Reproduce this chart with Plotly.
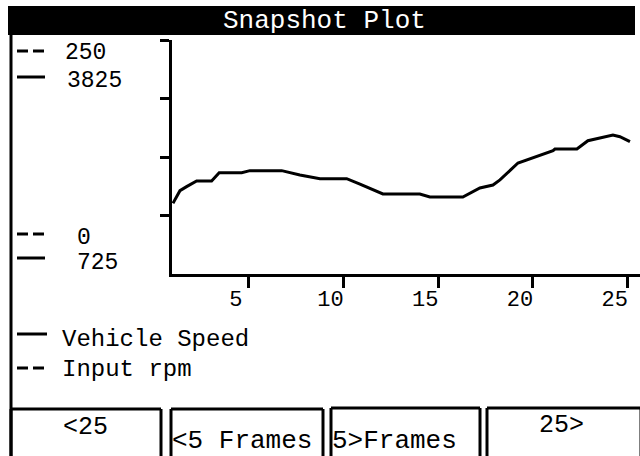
import plotly.graph_objects as go

# ---- data ----
frames = [1.0, 1.37, 1.72, 2.25, 3.04, 3.44, 4.63, 5.06, 6.74, 7.70, 8.76, 10.17,
          10.87, 12.08, 14.03, 14.56, 16.30, 17.20, 17.89, 18.26, 19.21, 20.00,
          21.06, 21.16, 22.32, 22.90, 23.53, 24.22, 24.59, 25.12]
vehicle_speed = [1662, 1829, 1882, 1957, 1957, 2067, 2067, 2094, 2094, 2037, 1988, 1988,
                 1917, 1785, 1785, 1745, 1745, 1865, 1904, 1971, 2196, 2269,
                 2359, 2381, 2381, 2491, 2527, 2567, 2544, 2478]
x_tickvals = [5, 10, 15, 20, 25]
x_ticktext = ["5", "10", "15", "20", "25"]
y_tickvals = [1500, 2275, 3050, 3825]
series_names = ["Vehicle Speed", "Input rpm"]
scale_top = ["250", "3825"]
scale_bottom = ["0", "725"]
buttons = ["<25", "<5 Frames", "5>Frames", "25>"]
title = "Snapshot Plot"

# ---- geometry helpers (pixels -> paper) ----
W, H = 640, 456
L, T, PW, PH = 172, 40, 468, 234


def px(x):
    return (x - L) / PW


def py(y):
    return (T + PH - y) / PH


FONT = "Liberation Mono"

fig = go.Figure()
fig.add_trace(go.Scatter(x=frames, y=vehicle_speed, mode="lines",
                         line=dict(color="black", width=3), name=series_names[0],
                         showlegend=False, hoverinfo="skip"))

shapes = []
annotations = []


def hline(x0, x1, y, dash="solid", w=3):
    shapes.append(dict(type="line", xref="paper", yref="paper",
                       x0=px(x0), x1=px(x1), y0=py(y), y1=py(y),
                       line=dict(color="black", width=w, dash=dash)))


def vline(x, y0, y1, w=3):
    shapes.append(dict(type="line", xref="paper", yref="paper",
                       x0=px(x), x1=px(x), y0=py(y0), y1=py(y1),
                       line=dict(color="black", width=w)))


def text(t, x, y, xanchor="left", size=22, color="black"):
    annotations.append(dict(text=t, xref="paper", yref="paper", x=px(x), y=py(y),
                            xanchor=xanchor, yanchor="middle", showarrow=False,
                            font=dict(family=FONT, size=size, color=color)))


# title bar
shapes.append(dict(type="rect", xref="paper", yref="paper", x0=px(8), x1=px(635),
                   y0=py(6), y1=py(35), fillcolor="black", line=dict(width=0), layer="below"))
text(title, 324, 21, xanchor="center", size=26, color="white")

# left frame line
vline(11, 35, 456)

# scale legend
DASH = "11px,5px"
hline(17, 48, 51, dash=DASH)
text(scale_top[0], 63, 53, size=23)
hline(17, 45, 77)
text(scale_top[1], 65, 81, size=23)
hline(17, 48, 234, dash=DASH)
text(scale_bottom[0], 75, 238, size=23)
hline(17, 45, 258)
text(scale_bottom[1], 75, 263, size=23)

# series legend
hline(17, 47, 334)
text(series_names[0], 60, 339, size=24)
hline(17, 47, 368, dash=DASH)
text(series_names[1], 60, 370, size=24)

# buttons
boxes = [(11, 161, 409), (171, 323, 409), (331, 480, 408), (487, 641, 408)]
for (a, b, top) in boxes:
    hline(a, b, top)
    vline(a, top, 456)
    vline(b, top, 456)
text(buttons[0], 85, 427, xanchor="center", size=25)
text(buttons[1], 170, 441, size=26)
text(buttons[2], 330, 441, size=26)
text(buttons[3], 561, 425, xanchor="center", size=25)

fig.update_layout(
    width=W, height=H,
    margin=dict(l=L, r=W - L - PW, t=T, b=H - T - PH, pad=0),
    paper_bgcolor="white", plot_bgcolor="white",
    shapes=shapes, annotations=annotations,
    showlegend=False,
    xaxis=dict(range=[0.95, 25.65], tickvals=x_tickvals, ticktext=x_ticktext,
               showgrid=False, zeroline=False, showline=True, linecolor="black",
               linewidth=3, ticks="outside", ticklen=11, tickwidth=3, tickcolor="black",
               ticklabelshift=-13, ticklabelstandoff=-8,
               tickfont=dict(family=FONT, size=22, color="black"), fixedrange=True),
    yaxis=dict(range=[725, 3825], tickvals=y_tickvals, showticklabels=False,
               showgrid=False, zeroline=False, showline=True, linecolor="black",
               linewidth=3, ticks="outside", ticklen=9, tickwidth=3, tickcolor="black",
               fixedrange=True),
)

fig.write_html("out.html", config={"displayModeBar": False},
               post_script="document.body.style.margin='0';")
